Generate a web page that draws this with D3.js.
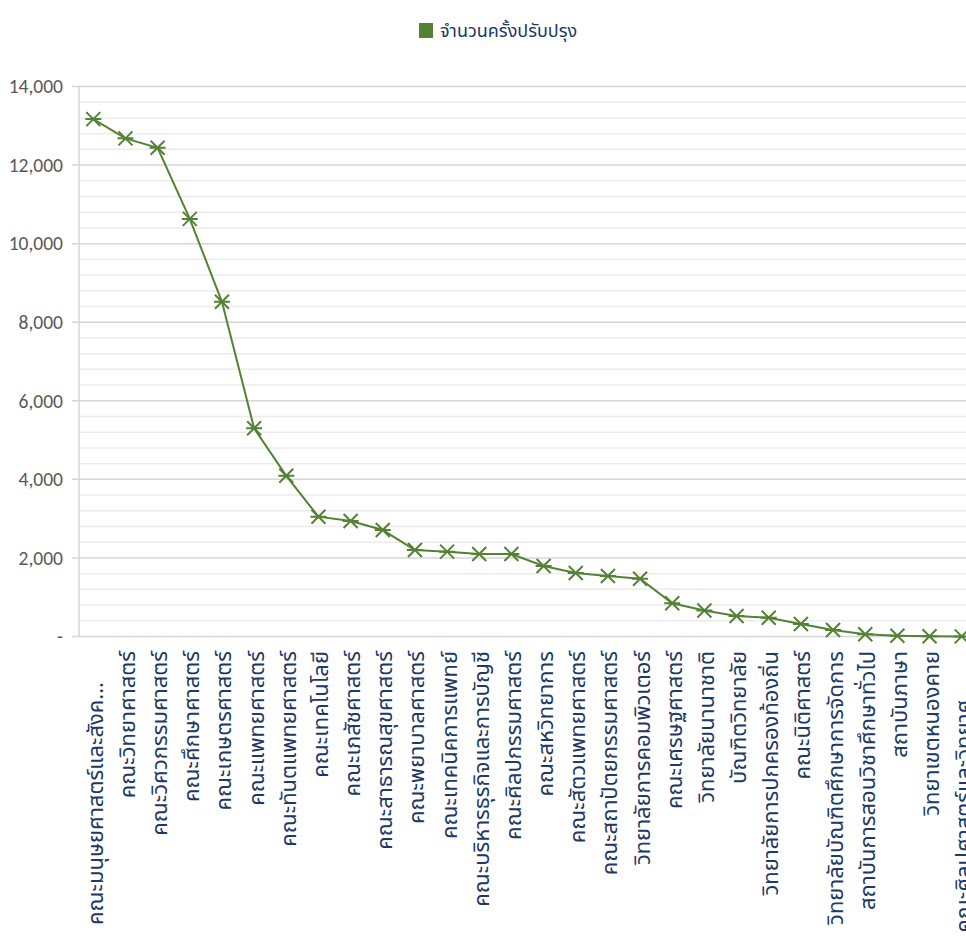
<!DOCTYPE html>
<html>
<head>
<meta charset="utf-8">
<script src="https://cdn.jsdelivr.net/npm/d3@7/dist/d3.min.js"></script>
<style>
  html, body { margin: 0; padding: 0; background: #ffffff; }
  svg { display: block; }
</style>
</head>
<body>
<svg id="chart" width="966" height="936"></svg>
<script>
const seriesName = "จำนวนครั้งปรับปรุง";

const categories = [
  "คณะมนุษยศาสตร์และสังค...",
  "คณะวิทยาศาสตร์",
  "คณะวิศวกรรมศาสตร์",
  "คณะศึกษาศาสตร์",
  "คณะเกษตรศาสตร์",
  "คณะแพทยศาสตร์",
  "คณะทันตแพทยศาสตร์",
  "คณะเทคโนโลยี",
  "คณะเภสัชศาสตร์",
  "คณะสาธารณสุขศาสตร์",
  "คณะพยาบาลศาสตร์",
  "คณะเทคนิคการแพทย์",
  "คณะบริหารธุรกิจและการบัญชี",
  "คณะศิลปกรรมศาสตร์",
  "คณะสหวิทยาการ",
  "คณะสัตวแพทยศาสตร์",
  "คณะสถาปัตยกรรมศาสตร์",
  "วิทยาลัยการคอมพิวเตอร์",
  "คณะเศรษฐศาสตร์",
  "วิทยาลัยนานาชาติ",
  "บัณฑิตวิทยาลัย",
  "วิทยาลัยการปกครองท้องถิ่น",
  "คณะนิติศาสตร์",
  "วิทยาลัยบัณฑิตศึกษาการจัดการ",
  "สถาบันการสอนวิชาศึกษาทั่วไป",
  "สถาบันภาษา",
  "วิทยาเขตหนองคาย",
  "คณะศิลปศาสตร์และวิทยาศ..."
];

const values = [
  13170, 12680, 12440, 10630, 8520, 5300, 4090, 3050, 2940, 2710,
  2200, 2160, 2100, 2100, 1795, 1615, 1540, 1470, 845, 660,
  520, 478, 318, 165, 56, 20, 5, 3
];

const yMajorTicks = [0, 2000, 4000, 6000, 8000, 10000, 12000, 14000];
const yMinorStep = 400;
const yMax = 14000;

const fmtTick = v => v === 0 ? "-" : d3.format(",")(v);

const svg = d3.select("#chart");
const plot = { left: 79, top: 86.5, bottom: 636.5, right: 966 };

const y = d3.scaleLinear().domain([0, yMax]).range([plot.bottom, plot.top]);
const x = d3.scalePoint().domain(categories).range([93.3, 961.7]);

const thaiFont = "Tahoma, 'Leelawadee UI', 'Noto Sans Thai', 'Noto Sans Thai UI', 'Noto Sans', 'DejaVu Sans', sans-serif";
const navy = "#203864";
const green = "#548235";

// minor gridlines
const minorVals = d3.range(0, yMax + 1, yMinorStep).filter(v => v % 2000 !== 0);
svg.append("g").selectAll("line").data(minorVals).join("line")
  .attr("x1", plot.left).attr("x2", plot.right)
  .attr("y1", d => y(d)).attr("y2", d => y(d))
  .attr("stroke", "#ececec").attr("stroke-width", 1.5);

// major gridlines
svg.append("g").selectAll("line").data(yMajorTicks).join("line")
  .attr("x1", plot.left - 7).attr("x2", plot.right)
  .attr("y1", d => y(d)).attr("y2", d => y(d))
  .attr("stroke", "#d6d6d6").attr("stroke-width", 1.5);

// y axis line
svg.append("line")
  .attr("x1", plot.left).attr("x2", plot.left)
  .attr("y1", plot.top).attr("y2", plot.bottom)
  .attr("stroke", "#d6d6d6").attr("stroke-width", 1.5);

// y tick labels
svg.append("g").selectAll("text").data(yMajorTicks).join("text")
  .attr("x", 63).attr("y", d => y(d))
  .attr("dy", "0.35em")
  .attr("text-anchor", "end")
  .attr("font-family", "Carlito, 'Liberation Sans', Arial, sans-serif")
  .attr("font-size", 19.5)
  .attr("fill", "#595959")
  .text(fmtTick);

// x labels
svg.append("g").selectAll("text").data(categories).join("text")
  .attr("transform", d => `translate(${x(d) + 3},${d.endsWith("...") ? 682 : 651}) rotate(-90)`)
  .attr("text-anchor", "end")
  .attr("dominant-baseline", "central")
  .attr("font-family", thaiFont)
  .attr("font-size", 22)
  .attr("fill", navy)
  .text(d => d);

// line
const line = d3.line()
  .x((d, i) => x(categories[i]))
  .y(d => y(d));
svg.append("path")
  .datum(values)
  .attr("d", line)
  .attr("fill", "none")
  .attr("stroke", green)
  .attr("stroke-width", 2);

// markers (star: X + horizontal bar)
const ms = 7;
const mk = svg.append("g").selectAll("g").data(values).join("g")
  .attr("transform", (d, i) => `translate(${x(categories[i])},${y(d)})`);
mk.append("path")
  .attr("d", `M${-ms},${-ms}L${ms},${ms}M${-ms},${ms}L${ms},${-ms}M${-ms - 1},0L${ms + 1},0`)
  .attr("stroke", green)
  .attr("stroke-width", 2)
  .attr("fill", "none");

// legend
const lg = svg.append("g");
lg.append("rect")
  .attr("x", 419).attr("y", 23).attr("width", 14).attr("height", 15)
  .attr("fill", green);
lg.append("text")
  .attr("x", 440).attr("y", 31)
  .attr("dominant-baseline", "central")
  .attr("font-family", thaiFont)
  .attr("font-size", 18)
  .attr("fill", navy)
  .text(seriesName);
</script>
</body>
</html>
